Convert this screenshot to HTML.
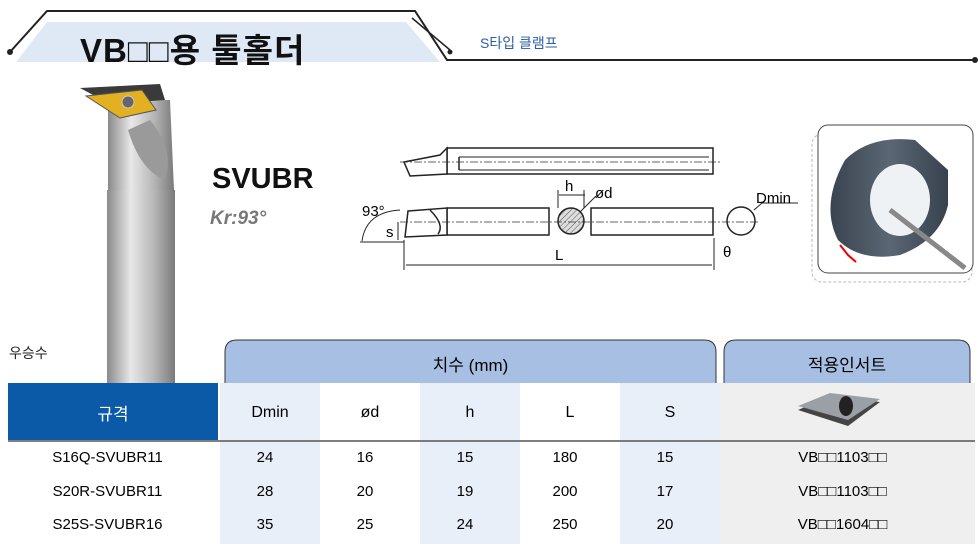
<!DOCTYPE html>
<html><head><meta charset="utf-8"><style>
body{margin:0;width:979px;height:544px;background:#fff;position:relative;overflow:hidden;font-family:"Liberation Sans","Noto Sans CJK KR",sans-serif}
.a{position:absolute}
.c{position:absolute;text-align:center}
</style></head><body>
<svg class="a" style="left:0;top:0" width="979" height="544">
<defs>
<linearGradient id="sh" x1="0" x2="1"><stop offset="0" stop-color="#8a8a8a"/><stop offset=".35" stop-color="#e8e8e8"/><stop offset=".7" stop-color="#b5b5b5"/><stop offset="1" stop-color="#7a7a7a"/></linearGradient>
<linearGradient id="ring" x1="0" x2="1"><stop offset="0" stop-color="#3a4450"/><stop offset=".5" stop-color="#5b6674"/><stop offset="1" stop-color="#38424e"/></linearGradient>
<pattern id="hat" width="4" height="4" patternUnits="userSpaceOnUse" patternTransform="rotate(45)"><rect width="4" height="4" fill="#ddd"/><line x1="0" y1="0" x2="0" y2="4" stroke="#555" stroke-width="1"/></pattern>
</defs>
<polygon points="47,22 406,22 440,62 16,62" fill="#dfe8f5"/>
<polyline points="10,52 47,11 415,11 447,60 975,60" fill="none" stroke="#222" stroke-width="2"/>
<line x1="412" y1="18" x2="450" y2="50" stroke="#222" stroke-width="1.5"/>
<circle cx="10" cy="52" r="3" fill="#222"/><circle cx="450" cy="52" r="2.5" fill="#222"/><circle cx="975" cy="60" r="3" fill="#222"/>
<rect x="107" y="190" width="68" height="193" fill="url(#sh)"/>
<path d="M108,100 L170,100 L174,190 L108,190 Z" fill="url(#sh)"/>
<path d="M150,120 Q175,150 165,180 Q140,170 128,130 Z" fill="#9a9a9a"/>
<polygon points="80,88 160,84 165,100 110,104" fill="#3a3a3a"/>
<polygon points="86,96 142,90 156,110 120,118" fill="#e2b020" stroke="#555"/>
<circle cx="128" cy="102" r="6" fill="#666" stroke="#ccc"/>
<g stroke="#222" fill="none" stroke-width="1.5">
<rect x="447" y="148" width="266" height="26" fill="#fff"/>
<path d="M404,162 L440,155 L447,148 L447,174 L410,176 Z" fill="#fff"/>
<line x1="459" y1="157" x2="459" y2="170"/>
<line x1="459" y1="157" x2="709" y2="157" stroke-width="1"/>
<line x1="459" y1="170" x2="709" y2="170" stroke-width="1"/>
<rect x="447" y="208" width="102" height="27" fill="#fff"/>
<rect x="591" y="208" width="122" height="27" fill="#fff"/>
<path d="M408,211 L447,208 L447,235 L405,237 Z" fill="#fff"/>
<path d="M430,210 Q445,225 438,234"/>
<circle cx="571" cy="221" r="13" fill="url(#hat)"/>
<circle cx="741" cy="221" r="14" fill="#fff"/>
<line x1="404" y1="240" x2="404" y2="270" stroke-width="1"/>
<line x1="714" y1="238" x2="714" y2="270" stroke-width="1"/>
<line x1="406" y1="265" x2="712" y2="265" stroke-width="1"/>
<line x1="559" y1="195" x2="585" y2="195" stroke-width="1"/>
<line x1="558" y1="190" x2="558" y2="208" stroke-width="1"/><line x1="584" y1="190" x2="584" y2="208" stroke-width="1"/>
<path d="M362,241 Q366,212 400,210" stroke-width="1"/>
<line x1="360" y1="242" x2="404" y2="242" stroke-width="1"/>
<line x1="398" y1="222" x2="398" y2="240" stroke-width="1"/>
<line x1="580" y1="212" x2="596" y2="196" stroke-width="1"/>
<line x1="754" y1="210" x2="762" y2="203" stroke-width="1"/>
<line x1="762" y1="203" x2="798" y2="203" stroke-width="1"/>
</g>
<g stroke="#333" stroke-width=".7" stroke-dasharray="8,2,2,2"><line x1="400" y1="162" x2="720" y2="162"/><line x1="400" y1="222" x2="760" y2="222"/></g>
<text x="565" y="191" font-size="15" font-family="Liberation Sans">h</text>
<text x="595" y="198" font-size="15" font-family="Liberation Sans">ød</text>
<text x="756" y="203" font-size="15" font-family="Liberation Sans">Dmin</text>
<text x="362" y="216" font-size="15" font-family="Liberation Sans">93°</text>
<text x="386" y="237" font-size="15" font-family="Liberation Sans">s</text>
<text x="555" y="260" font-size="15" font-family="Liberation Sans">L</text>
<text x="723" y="257" font-size="15" font-family="Liberation Sans">θ</text>
<rect x="812" y="134" width="160" height="148" rx="10" fill="none" stroke="#bbb" stroke-dasharray="3,2"/>
<rect x="818" y="125" width="155" height="148" rx="10" fill="#fff" stroke="#444"/>
<path d="M845,160 Q870,135 915,140 L948,170 L948,205 Q940,240 900,255 Q860,262 838,240 Q820,205 845,160 Z" fill="url(#ring)"/>
<ellipse cx="900" cy="200" rx="30" ry="36" fill="#eef2f5"/>
<line x1="890" y1="210" x2="965" y2="268" stroke="#888" stroke-width="5"/>
<path d="M840,245 L848,255 L856,262" stroke="#e00" stroke-width="2" fill="none"/>
<path d="M225,383 L225,352 Q225,340 237,340 L704,340 Q716,340 716,352 L716,383" fill="#a6bfe3" stroke="#333"/>
<path d="M724,383 L724,352 Q724,340 736,340 L958,340 Q970,340 970,352 L970,383" fill="#a6bfe3" stroke="#333"/>
<rect x="8" y="383" width="210" height="57" fill="#0b5aa8"/>
<rect x="220" y="383" width="100" height="161" fill="#e9eff8"/>
<rect x="420" y="383" width="100" height="161" fill="#e9eff8"/>
<rect x="620" y="383" width="100" height="161" fill="#e9eff8"/>
<rect x="720" y="383" width="255" height="161" fill="#efefef"/>
<line x1="8" y1="441" x2="975" y2="441" stroke="#555" stroke-width="1.5"/>
<polygon points="798,410 830,396 880,402 848,426" fill="#444"/><polygon points="798,406 830,393 880,399 848,420" fill="#9aa0a6"/>
<ellipse cx="846" cy="406" rx="7" ry="10" fill="#222"/>
</svg>
<div class="a" style="left:80px;top:24px;font-size:33px;font-weight:bold;color:#111;letter-spacing:1px;white-space:nowrap">VB□□용 툴홀더</div>
<div class="a" style="left:480px;top:33px;font-size:14px;color:#2a5ea8">S타입 클램프</div>
<div class="a" style="left:212px;top:163px;font-size:29px;font-weight:bold;color:#111">SVUBR</div>
<div class="a" style="left:210px;top:208px;font-size:19px;font-weight:bold;font-style:italic;color:#777">Kr:93°</div>
<div class="a" style="left:9px;top:343px;font-size:14px;color:#222">우승수</div>
<div class="c" style="left:225px;width:491px;top:351px;font-size:17px">치수 (mm)</div>
<div class="c" style="left:724px;width:246px;top:351px;font-size:17px">적용인서트</div>
<div class="c" style="left:8px;width:210px;top:400px;font-size:17px;color:#fff">규격</div>
<div class="a" style="left:220px;top:404px;font-size:16px;display:flex">
<span style="width:100px;text-align:center">Dmin</span><span style="width:100px;text-align:center">ød</span><span style="width:100px;text-align:center">h</span><span style="width:100px;text-align:center">L</span><span style="width:100px;text-align:center">S</span></div>
<div class="a" style="left:0;top:441px;font-size:15px;line-height:33.5px">
<div style="display:flex"><span style="width:215px;text-align:center">S16Q-SVUBR11</span><span style="width:100px;text-align:center">24</span><span style="width:100px;text-align:center">16</span><span style="width:100px;text-align:center">15</span><span style="width:100px;text-align:center">180</span><span style="width:100px;text-align:center">15</span><span style="width:255px;text-align:center">VB□□1103□□</span></div>
<div style="display:flex"><span style="width:215px;text-align:center">S20R-SVUBR11</span><span style="width:100px;text-align:center">28</span><span style="width:100px;text-align:center">20</span><span style="width:100px;text-align:center">19</span><span style="width:100px;text-align:center">200</span><span style="width:100px;text-align:center">17</span><span style="width:255px;text-align:center">VB□□1103□□</span></div>
<div style="display:flex"><span style="width:215px;text-align:center">S25S-SVUBR16</span><span style="width:100px;text-align:center">35</span><span style="width:100px;text-align:center">25</span><span style="width:100px;text-align:center">24</span><span style="width:100px;text-align:center">250</span><span style="width:100px;text-align:center">20</span><span style="width:255px;text-align:center">VB□□1604□□</span></div>
</div>
</body></html>
